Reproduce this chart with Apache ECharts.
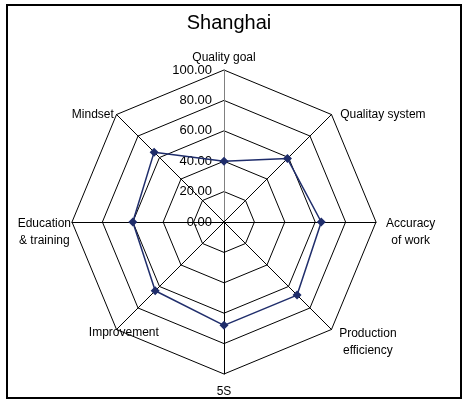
<!DOCTYPE html>
<html>
<head>
<meta charset="utf-8">
<script src="https://cdn.jsdelivr.net/npm/echarts@6/dist/echarts.min.js"></script>
<style>
html,body{margin:0;padding:0;background:#fff;}
#chart{width:463px;height:400px;}
</style>
</head>
<body>
<div id="chart"></div>
<script>
// Categories listed clockwise starting from the top axis
var indicatorNames = ['Quality goal', 'Qualitay system', 'Accuracy\nof work', 'Production\nefficiency', '5S', 'Improvement', 'Education\n& training', 'Mindset'];
var values = [40, 59, 64, 68, 68, 64, 60, 65];
var axisMax = 100;
var axisMin = 0;
var titleText = 'Shanghai';
var FONT = 'Liberation Sans';

// per-category label nudges (style only)
var nameStyles = [
  {padding: [0, 0, 3, 0]},
  {padding: [2, 0, 0, 8]},
  {padding: [21, 0, 0, 9]},
  {padding: [24, 0, 0, 7]},
  {padding: [8, 0, 0, 0]},
  {padding: [6, 0, 0, 16], align: 'center'},
  {padding: [21, 0, 0, 0]},
  {padding: [2, 2, 0, 0]}
];

var chart = echarts.init(document.getElementById('chart'), null, {renderer: 'canvas'});

function richName(n) {
  return n.split('\n').map(function (p) { return '{c|' + p + '}'; }).join('\n');
}

// ECharts radar runs counter-clockwise; reorder so the chart reads clockwise
var order = [0, 7, 6, 5, 4, 3, 2, 1];

var indicators = order.map(function (i) {
  var ind = {name: indicatorNames[i], max: axisMax, min: axisMin, nameTextStyle: nameStyles[i]};
  if (i === 0) {
    ind.axisLabel = {show: true};
    ind.axisLine = {lineStyle: {color: '#808080', width: 1}};
  }
  return ind;
});
var seriesValues = order.map(function (i) { return values[i]; });

var option = {
  animation: false,
  backgroundColor: '#fff',
  title: {
    text: titleText,
    left: 224,
    textAlign: 'center',
    top: 8,
    textStyle: {fontFamily: FONT, fontSize: 20, fontWeight: 'normal', color: '#000'}
  },
  graphic: [{
    type: 'rect',
    shape: {x: 7, y: 5, width: 454, height: 393},
    style: {fill: 'none', stroke: '#000', lineWidth: 2},
    silent: true,
    z: 100
  }],
  radar: {
    center: [224, 222],
    radius: 152,
    shape: 'polygon',
    splitNumber: 5,
    startAngle: 90,
    indicator: indicators,
    nameGap: 1,
    axisName: {
      color: '#000',
      fontFamily: FONT,
      fontSize: 12,
      formatter: function (n) { return richName(n); },
      rich: {c: {fontFamily: FONT, fontSize: 12, color: '#000', align: 'center', lineHeight: 17}}
    },
    axisLine: {show: true, lineStyle: {color: '#000', width: 1}},
    splitLine: {show: true, lineStyle: {color: '#000', width: 1}},
    splitArea: {show: false},
    axisTick: {show: false},
    axisLabel: {
      show: false,
      margin: 12,
      color: '#000',
      fontFamily: FONT,
      fontSize: 13,
      formatter: function (v) { return Number(v).toFixed(2); }
    }
  },
  series: [{
    type: 'radar',
    symbol: 'diamond',
    symbolSize: 9,
    lineStyle: {color: '#1F2D6B', width: 1.5},
    itemStyle: {color: '#1F2D6B'},
    data: [{value: seriesValues, name: titleText}]
  }]
};
chart.setOption(option);
</script>
</body>
</html>
